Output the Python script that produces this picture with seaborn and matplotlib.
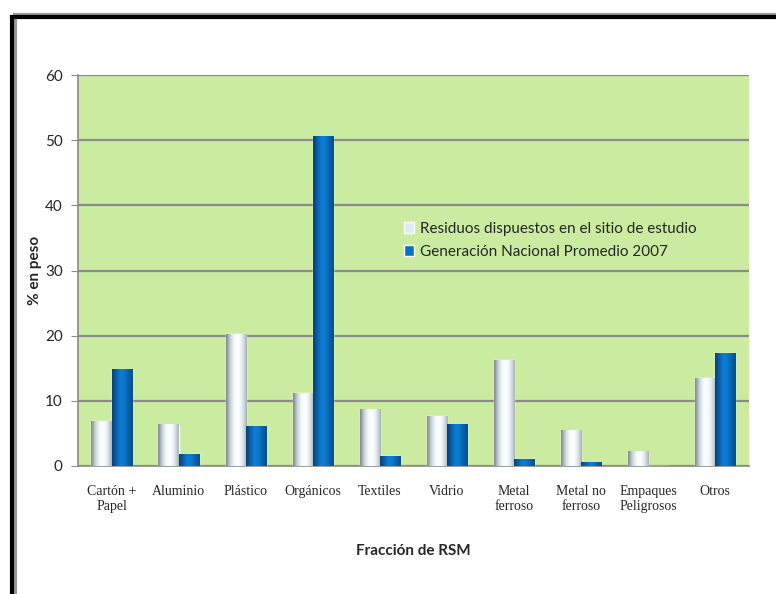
import numpy as np
import pandas as pd
import matplotlib
matplotlib.use('Agg')
import matplotlib.pyplot as plt
from matplotlib.colors import LinearSegmentedColormap
from matplotlib.patches import Rectangle
import seaborn as sns

# Datos
categorias = ['Cartón +\nPapel', 'Aluminio', 'Plástico', 'Orgánicos', 'Textiles',
              'Vidrio', 'Metal\nferroso', 'Metal no\nferroso', 'Empaques\nPeligrosos', 'Otros']
residuos_sitio = [6.9, 6.3, 20.2, 11.2, 8.6, 7.6, 16.2, 5.4, 2.2, 13.5]
generacion_nacional = [14.8, 1.8, 6.0, 50.5, 1.5, 6.3, 1.0, 0.5, 0.0, 17.3]
series = ['Residuos dispuestos en el sitio de estudio', 'Generación Nacional Promedio 2007']

df = pd.DataFrame({
    'categoria': categorias * 2,
    'valor': residuos_sitio + generacion_nacional,
    'serie': [series[0]] * len(categorias) + [series[1]] * len(categorias),
})

sns.set_style('white')
plt.rcParams['font.family'] = ['Lato', 'DejaVu Sans']

fig = plt.figure(figsize=(7.76, 5.94), dpi=100)
ax = fig.add_axes([0.1005, 0.2155, 0.8645, 0.6582])
ax.set_facecolor('#cbeca0')

colores = {series[0]: '#dcecf2', series[1]: '#0a6fc2'}
sns.barplot(data=df, x='categoria', y='valor', hue='serie', palette=colores,
            width=0.6, ax=ax, saturation=1, zorder=3)

# Degradado tipo cilindro en cada barra
cmap_blanco = LinearSegmentedColormap.from_list(
    'blanco', ['#7d878c', '#c9d3d6', '#f4fbfd', '#ffffff', '#dfe9ec', '#a9b3b6'])
cmap_azul = LinearSegmentedColormap.from_list(
    'azul', ['#0b3f73', '#0a5fa8', '#0c7ed6', '#0a78cc', '#085fa8', '#074e8a'])
grad = np.linspace(0, 1, 64).reshape(1, -1)
n = len(categorias)
for i, p in enumerate(ax.patches[:2 * n]):
    h = p.get_height()
    if h <= 0:
        continue
    cmap = cmap_blanco if i < n else cmap_azul
    x0 = p.get_x()
    w = p.get_width()
    ax.imshow(grad, cmap=cmap, aspect='auto', extent=(x0, x0 + w, 0, h),
              zorder=4, interpolation='bicubic')
ax.set_xlim(-0.5, n - 0.5)
ax.set_ylim(0, 60)

ax.set_yticks(range(0, 61, 10))
ax.grid(axis='y', color='#8a8a8a', linewidth=1.6, zorder=1)
ax.set_axisbelow(True)
for s in ['top', 'right']:
    ax.spines[s].set_visible(False)
for s in ['left', 'bottom']:
    ax.spines[s].set_color('#8a8a8a')
    ax.spines[s].set_linewidth(1.2)
ax.tick_params(axis='y', length=5, color='#8a8a8a', labelsize=11, pad=6, left=True)
ax.tick_params(axis='x', length=0, pad=14)
for lbl in ax.get_xticklabels():
    lbl.set_family('Liberation Serif')
    lbl.set_fontsize(10)
    lbl.set_linespacing(1.2)

ax.set_xlabel('Fracción de RSM', fontsize=11, fontweight='bold', labelpad=22)
ax.set_ylabel('% en peso', fontsize=11, fontweight='bold', labelpad=2)

leg = ax.legend(loc='upper left', bbox_to_anchor=(0.465, 0.66), frameon=False,
                fontsize=11, handlelength=0.7, handleheight=0.7, handletextpad=0.4,
                labelspacing=0.6)

# Marco del gráfico
fig.patches.append(Rectangle((0.019, -0.05), 1.2, 1.025, transform=fig.transFigure,
                             fill=False, edgecolor='#999999', linewidth=3, zorder=0))
fig.patches.append(Rectangle((0.015, -0.05), 1.2, 1.022, transform=fig.transFigure,
                             fill=False, edgecolor='black', linewidth=3, zorder=0))

fig.savefig('out.png', dpi=100)
